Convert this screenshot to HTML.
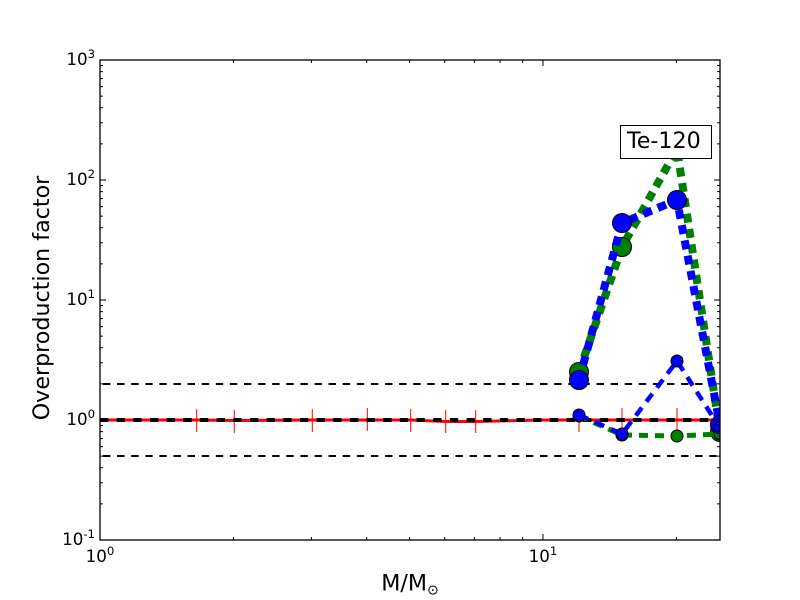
<!DOCTYPE html>
<html>
<head>
<meta charset="utf-8">
<style>
  html, body { margin: 0; padding: 0; background: #ffffff; }
  svg { display: block; }
  text { font-family: "DejaVu Sans", "Liberation Sans", sans-serif; fill: #000; }
</style>
</head>
<body>
<svg width="800" height="600" viewBox="0 0 800 600" xmlns="http://www.w3.org/2000/svg">
  <defs>
    <clipPath id="plot">
      <rect x="100" y="60" width="620" height="480"/>
    </clipPath>
  </defs>
  <rect x="0" y="0" width="800" height="600" fill="#ffffff"/>

  <g clip-path="url(#plot)">
    <!-- red line with error bars -->
    <polyline fill="none" stroke="#ff0000" stroke-width="3" points="100,420 196.7,420 234.3,420.5 312.3,420 367.3,420 410.7,420 445.7,421.5 475.7,421.5 543,420 579,420 622,420 677,420 720,420"/>
    <g stroke="#ff0000" stroke-width="1">
      <line x1="196.7" y1="409" x2="196.7" y2="432"/>
      <line x1="234.3" y1="410" x2="234.3" y2="433"/>
      <line x1="312.3" y1="409" x2="312.3" y2="432"/>
      <line x1="367.3" y1="408" x2="367.3" y2="431"/>
      <line x1="410.7" y1="409" x2="410.7" y2="432"/>
      <line x1="445.7" y1="410" x2="445.7" y2="433"/>
      <line x1="475.7" y1="410" x2="475.7" y2="433"/>
      <line x1="579" y1="411" x2="579" y2="432"/>
      <line x1="622" y1="408" x2="622" y2="431"/>
      <line x1="677" y1="408" x2="677" y2="432"/>
    </g>

    <!-- black dashed reference lines -->
    <line x1="100" y1="420" x2="720" y2="420" stroke="#000" stroke-width="4" stroke-dasharray="8.33 8.33"/>
    <line x1="100" y1="384" x2="720" y2="384" stroke="#000" stroke-width="2" stroke-dasharray="7.4 6.7" stroke-dashoffset="-3"/>
    <line x1="100" y1="456" x2="720" y2="456" stroke="#000" stroke-width="2" stroke-dasharray="7.4 6.7" stroke-dashoffset="-3"/>

    <!-- green thick dotted -->
    <polyline fill="none" stroke="#008000" stroke-width="8" stroke-dasharray="9 6.5" points="579,372 622,247 677,149 720,432"/>
    <g fill="#008000" stroke="#000" stroke-width="1">
      <circle cx="579" cy="372" r="9.5"/>
      <circle cx="622" cy="247" r="9.5"/>
      <circle cx="677" cy="149" r="9.5"/>
      <circle cx="720" cy="432" r="9.5"/>
    </g>

    <!-- blue thick dotted -->
    <polyline fill="none" stroke="#0000ff" stroke-width="8" stroke-dasharray="9 6.5" points="579,380 622,223 677,200 720,425"/>
    <g fill="#0000ff" stroke="#000" stroke-width="1">
      <circle cx="579" cy="380" r="9.5"/>
      <circle cx="622" cy="223" r="9.5"/>
      <circle cx="677" cy="200" r="9.5"/>
      <circle cx="720" cy="425" r="9.5"/>
    </g>

    <!-- green thin dotted -->
    <polyline fill="none" stroke="#008000" stroke-width="5" stroke-dasharray="9 7" points="579,416 622,435 677,436 720,434"/>
    <g fill="#008000" stroke="#000" stroke-width="1">
      <circle cx="579" cy="416" r="6"/>
      <circle cx="622" cy="435" r="6"/>
      <circle cx="677" cy="436" r="6"/>
      <circle cx="720" cy="434" r="6"/>
    </g>

    <!-- blue thin dashed -->
    <polyline fill="none" stroke="#0000ff" stroke-width="4.5" stroke-dasharray="10 7.5" points="579,415 622,434 677,361 720,428"/>
    <g fill="#0000ff" stroke="#000" stroke-width="1">
      <circle cx="579" cy="415" r="6"/>
      <circle cx="622" cy="434" r="6"/>
      <circle cx="677" cy="361" r="6"/>
      <circle cx="720" cy="428" r="6"/>
    </g>
  </g>

  <!-- axes frame -->
  <rect x="100" y="60" width="620" height="480" fill="none" stroke="#000" stroke-width="1.3"/>

  <!-- ticks -->
  <g stroke="#000" stroke-width="1">
    <line x1="100" y1="540" x2="100" y2="534"/><line x1="100" y1="60" x2="100" y2="66"/>
    <line x1="543" y1="540" x2="543" y2="534"/><line x1="543" y1="60" x2="543" y2="66"/>
    <line x1="233.4" y1="540" x2="233.4" y2="537"/><line x1="233.4" y1="60" x2="233.4" y2="63"/>
    <line x1="311.4" y1="540" x2="311.4" y2="537"/><line x1="311.4" y1="60" x2="311.4" y2="63"/>
    <line x1="366.7" y1="540" x2="366.7" y2="537"/><line x1="366.7" y1="60" x2="366.7" y2="63"/>
    <line x1="409.6" y1="540" x2="409.6" y2="537"/><line x1="409.6" y1="60" x2="409.6" y2="63"/>
    <line x1="444.7" y1="540" x2="444.7" y2="537"/><line x1="444.7" y1="60" x2="444.7" y2="63"/>
    <line x1="474.4" y1="540" x2="474.4" y2="537"/><line x1="474.4" y1="60" x2="474.4" y2="63"/>
    <line x1="500.1" y1="540" x2="500.1" y2="537"/><line x1="500.1" y1="60" x2="500.1" y2="63"/>
    <line x1="522.7" y1="540" x2="522.7" y2="537"/><line x1="522.7" y1="60" x2="522.7" y2="63"/>
    <line x1="676.4" y1="540" x2="676.4" y2="537"/><line x1="676.4" y1="60" x2="676.4" y2="63"/>

    <line x1="100" y1="60" x2="106" y2="60"/><line x1="720" y1="60" x2="714" y2="60"/>
    <line x1="100" y1="180" x2="106" y2="180"/><line x1="720" y1="180" x2="714" y2="180"/>
    <line x1="100" y1="300" x2="106" y2="300"/><line x1="720" y1="300" x2="714" y2="300"/>
    <line x1="100" y1="420" x2="106" y2="420"/><line x1="720" y1="420" x2="714" y2="420"/>
    <line x1="100" y1="540" x2="106" y2="540"/><line x1="720" y1="540" x2="714" y2="540"/>
  </g>
  <g stroke="#000" stroke-width="1">
    <path d="
      M100,503.9h3 M100,482.7h3 M100,467.8h3 M100,456.1h3 M100,446.6h3 M100,438.6h3 M100,431.6h3 M100,425.5h3
      M100,383.9h3 M100,362.7h3 M100,347.8h3 M100,336.1h3 M100,326.6h3 M100,318.6h3 M100,311.6h3 M100,305.5h3
      M100,263.9h3 M100,242.7h3 M100,227.8h3 M100,216.1h3 M100,206.6h3 M100,198.6h3 M100,191.6h3 M100,185.5h3
      M100,143.9h3 M100,122.7h3 M100,107.8h3 M100,96.1h3 M100,86.6h3 M100,78.6h3 M100,71.6h3 M100,65.5h3
      M720,503.9h-3 M720,482.7h-3 M720,467.8h-3 M720,456.1h-3 M720,446.6h-3 M720,438.6h-3 M720,431.6h-3 M720,425.5h-3
      M720,383.9h-3 M720,362.7h-3 M720,347.8h-3 M720,336.1h-3 M720,326.6h-3 M720,318.6h-3 M720,311.6h-3 M720,305.5h-3
      M720,263.9h-3 M720,242.7h-3 M720,227.8h-3 M720,216.1h-3 M720,206.6h-3 M720,198.6h-3 M720,191.6h-3 M720,185.5h-3
      M720,143.9h-3 M720,122.7h-3 M720,107.8h-3 M720,96.1h-3 M720,86.6h-3 M720,78.6h-3 M720,71.6h-3 M720,65.5h-3
    " fill="none"/>
  </g>

  <!-- y tick labels -->
  <g font-size="16.7" text-anchor="end">
    <text x="95" y="65">10<tspan dy="-7" font-size="11.7">3</tspan></text>
    <text x="95" y="185">10<tspan dy="-7" font-size="11.7">2</tspan></text>
    <text x="95" y="305">10<tspan dy="-7" font-size="11.7">1</tspan></text>
    <text x="95" y="425">10<tspan dy="-7" font-size="11.7">0</tspan></text>
    <text x="95" y="545">10<tspan dy="-7" font-size="11.7">-1</tspan></text>
  </g>

  <!-- x tick labels -->
  <g font-size="16.7" text-anchor="middle">
    <text x="100" y="562">10<tspan dy="-7" font-size="11.7">0</tspan></text>
    <text x="543" y="562">10<tspan dy="-7" font-size="11.7">1</tspan></text>
  </g>

  <!-- axis labels -->
  <text x="410" y="590.5" font-size="22.2" text-anchor="middle">M/M<tspan dy="4" font-size="14">⊙</tspan></text>
  <text x="0" y="0" font-size="22.2" text-anchor="middle" transform="translate(49,298) rotate(-90)">Overproduction factor</text>

  <!-- annotation box -->
  <rect x="620.5" y="125.5" width="91" height="33" fill="#ffffff" stroke="#000" stroke-width="1"/>
  <text x="627" y="148" font-size="22.2">Te-120</text>
</svg>
</body>
</html>
